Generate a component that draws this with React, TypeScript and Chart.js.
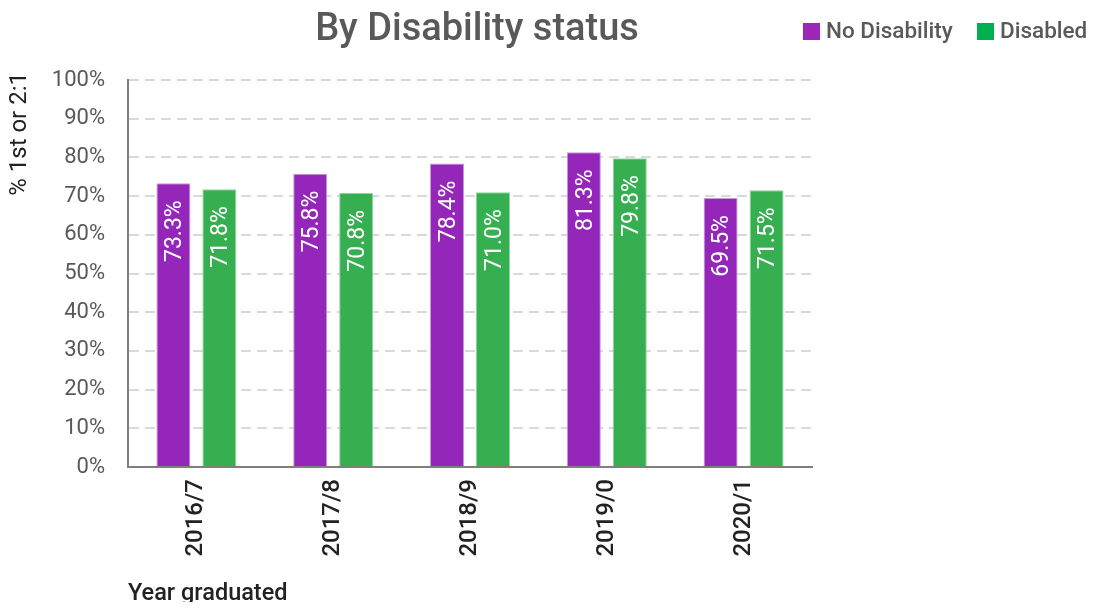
import React, { useEffect, useRef } from "react";
import { Chart, registerables } from "chart.js";

Chart.register(...registerables);

const categories = ["2016/7", "2017/8", "2018/9", "2019/0", "2020/1"];
const noDisability = [73.3, 75.8, 78.4, 81.3, 69.5];
const disabled = [71.8, 70.8, 71.0, 79.8, 71.5];
const seriesNames = ["No Disability", "Disabled"];
const barColors = ["#9526BA", "#36AF51"];
const legendColors = ["#9B27B8", "#00B050"];
const titleText = "By Disability status";
const yTitle = "% 1st or 2:1";
const xTitle = "Year graduated";

const FONT = "Roboto, 'DejaVu Sans', sans-serif";

const extrasPlugin = {
  id: "extras",
  afterDatasetsDraw(chart: any) {
    const ctx = chart.ctx;
    ctx.save();
    ctx.font = `23px ${FONT}`;
    ctx.fillStyle = "#ffffff";
    ctx.textAlign = "right";
    ctx.textBaseline = "middle";
    chart.data.datasets.forEach((ds: any, di: number) => {
      const meta = chart.getDatasetMeta(di);
      meta.data.forEach((bar: any, i: number) => {
        const v = ds.data[i];
        ctx.save();
        ctx.translate(bar.x + 1, bar.y + 17);
        ctx.rotate(-Math.PI / 2);
        ctx.fillText(v.toFixed(1) + "%", 0, 1);
        ctx.restore();
      });
    });
    ctx.restore();
  },
  afterDraw(chart: any) {
    const ctx = chart.ctx;
    const area = chart.chartArea;
    ctx.save();
    // title
    ctx.font = `500 38px ${FONT}`;
    ctx.fillStyle = "#595959";
    ctx.textAlign = "center";
    ctx.textBaseline = "alphabetic";
    ctx.fillText(titleText, (area.left + area.right) / 2 + 7, 32);
    // legend
    ctx.font = `500 22.5px ${FONT}`;
    ctx.textAlign = "left";
    ctx.textBaseline = "middle";
    const legendX = [795, 969];
    seriesNames.forEach((name, i) => {
      ctx.fillStyle = legendColors[i];
      ctx.fillRect(legendX[i], 15, 17, 17);
      ctx.fillStyle = "#595959";
      ctx.fillText(name, legendX[i] + 23, 24);
    });
    // y title
    ctx.save();
    ctx.font = `24px ${FONT}`;
    ctx.fillStyle = "#222222";
    ctx.translate(12, 64);
    ctx.rotate(-Math.PI / 2);
    ctx.textAlign = "right";
    ctx.textBaseline = "middle";
    ctx.fillText(yTitle, 0, 0);
    ctx.restore();
    // x title
    ctx.font = `500 23.5px ${FONT}`;
    ctx.fillStyle = "#222222";
    ctx.textAlign = "left";
    ctx.textBaseline = "middle";
    ctx.fillText(xTitle, area.left, 586);
    ctx.restore();
  },
};

export default function App() {
  const ref = useRef<HTMLCanvasElement>(null);
  useEffect(() => {
    const chart = new Chart(ref.current!, {
      type: "bar",
      data: {
        labels: categories,
        datasets: [
          {
            label: seriesNames[0],
            data: noDisability,
            backgroundColor: barColors[0],
            borderColor: "#c79ad8",
            borderWidth: 1,
            categoryPercentage: 0.672,
            barPercentage: 0.74,
          },
          {
            label: seriesNames[1],
            data: disabled,
            backgroundColor: barColors[1],
            borderColor: "#8fd49e",
            borderWidth: 1,
            categoryPercentage: 0.672,
            barPercentage: 0.74,
          },
        ],
      },
      options: {
        animation: false,
        responsive: true,
        maintainAspectRatio: false,
        layout: { padding: { top: 72, right: 277, left: 0, bottom: 0 } },
        plugins: {
          title: { display: false },
          tooltip: { enabled: false },
          legend: { display: false },
        },
        scales: {
          x: {
            afterFit: (s: any) => {
              s.height = 135;
            },
            grid: { display: false, drawTicks: false },
            border: { display: true, color: "#7f7f7f", width: 2 },
            ticks: {
              minRotation: 90,
              maxRotation: 90,
              padding: 12,
              color: "#222222",
              font: { family: FONT, size: 24, weight: "500" },
            },
          },
          y: {
            min: 0,
            max: 100,
            afterFit: (s: any) => {
              s.width = 120;
            },
            ticks: {
              stepSize: 10,
              padding: 23,
              color: "#595959",
              font: { family: FONT, size: 22 },
              callback: (v: any) => v + "%",
            },
            grid: { color: "#d9d9d9", lineWidth: 2, drawTicks: false },
            border: { display: true, color: "#7f7f7f", width: 2, dash: [10, 6] },
          },
        },
      },
      plugins: [extrasPlugin],
    });
    return () => chart.destroy();
  }, []);
  return (
    <div style={{ width: 1081, height: 594, position: "relative" }}>
      <canvas ref={ref} />
    </div>
  );
}
